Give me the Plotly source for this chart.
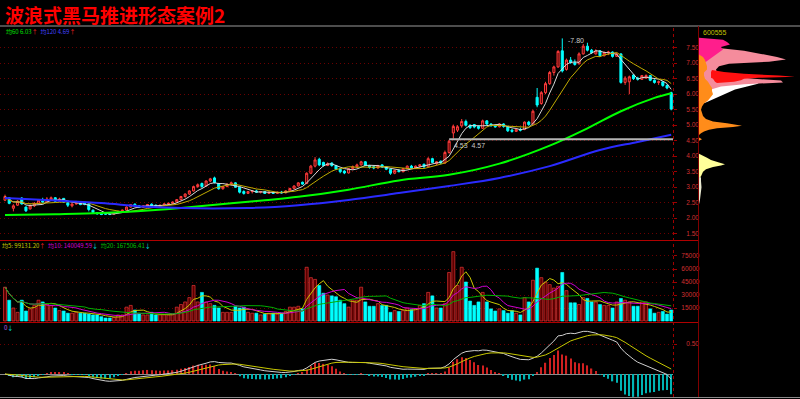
import plotly.graph_objects as go
import pandas as pd

W, H = 800, 399


def px(x):
    return x / W


def py(y):
    return 1 - y / H


# ---------------- data ----------------
opens = [2.58, 2.66, 2.32, 2.42, 2.65, 2.36, 2.30, 2.40, 2.48, 2.56,
         2.52, 2.60, 2.66, 2.55, 2.64, 2.50, 2.40, 2.46, 2.48, 2.50,
         2.46, 2.26, 2.18, 2.14, 2.16, 2.13, 2.13, 2.18, 2.22, 2.26,
         2.36, 2.45, 2.40, 2.35, 2.40, 2.45, 2.42, 2.38, 2.42, 2.46,
         2.48, 2.52, 2.60, 2.70, 2.78, 2.88, 3.02, 3.12, 3.04, 3.20,
         3.30, 3.12, 2.95, 3.02, 3.10, 3.14, 3.00, 2.86, 2.80, 2.86,
         2.88, 2.84, 2.86, 2.80, 2.84, 2.80, 2.84, 2.82, 2.88, 2.96,
         3.04, 3.16, 3.12, 3.45, 3.68, 3.90, 3.80, 3.70, 3.78, 3.70,
         3.58, 3.52, 3.46, 3.60, 3.66, 3.72, 3.82, 3.70, 3.66, 3.62,
         3.72, 3.65, 3.58, 3.45, 3.54, 3.50, 3.60, 3.68, 3.62, 3.68,
         3.74, 3.66, 3.92, 3.76, 3.84, 3.78, 4.12, 4.75, 4.84, 4.98,
         5.12, 5.00, 5.02, 4.96, 4.90, 5.14, 5.04, 4.98, 4.95, 5.04,
         4.96, 4.84, 4.80, 4.86, 4.86, 5.10, 5.04, 5.90, 5.70, 6.05,
         6.34, 6.70, 6.88, 7.40, 6.80, 7.10, 7.02, 6.98, 7.30, 7.55,
         7.42, 7.30, 7.40, 7.24, 7.34, 7.36, 7.22, 7.30, 6.38, 6.40,
         6.62, 6.52, 6.48, 6.52, 6.60, 6.45, 6.38, 6.40, 6.28, 6.05]
highs = [2.76, 2.68, 2.45, 2.58, 2.68, 2.38, 2.45, 2.52, 2.62, 2.66,
         2.68, 2.70, 2.68, 2.66, 2.65, 2.52, 2.48, 2.52, 2.50, 2.52,
         2.48, 2.28, 2.20, 2.18, 2.18, 2.16, 2.20, 2.24, 2.28, 2.38,
         2.46, 2.48, 2.42, 2.42, 2.46, 2.48, 2.44, 2.44, 2.48, 2.50,
         2.54, 2.62, 2.72, 2.80, 2.90, 3.05, 3.12, 3.15, 3.22, 3.30,
         3.34, 3.14, 3.04, 3.12, 3.18, 3.16, 3.02, 2.90, 2.88, 2.90,
         2.92, 2.88, 2.88, 2.86, 2.86, 2.86, 2.88, 2.90, 2.98, 3.06,
         3.16, 3.18, 3.48, 3.72, 3.97, 3.95, 3.82, 3.80, 3.80, 3.72,
         3.62, 3.55, 3.62, 3.70, 3.76, 3.85, 3.84, 3.72, 3.68, 3.72,
         3.74, 3.68, 3.60, 3.56, 3.58, 3.62, 3.70, 3.72, 3.70, 3.74,
         3.76, 3.97, 3.95, 3.84, 3.86, 4.18, 4.53, 5.02, 5.00, 5.20,
         5.18, 5.02, 5.04, 4.98, 5.18, 5.16, 5.06, 5.02, 5.06, 5.06,
         4.98, 4.88, 4.88, 4.92, 5.12, 5.14, 5.50, 6.20, 6.10, 6.40,
         6.75, 6.92, 7.42, 7.80, 7.15, 7.20, 7.12, 7.35, 7.62, 7.66,
         7.46, 7.45, 7.42, 7.38, 7.40, 7.38, 7.34, 7.32, 6.58, 6.60,
         6.64, 6.56, 6.62, 6.64, 6.62, 6.48, 6.44, 6.42, 6.32, 6.08]
lows = [2.55, 2.45, 2.22, 2.40, 2.44, 2.20, 2.28, 2.36, 2.46, 2.50,
        2.50, 2.56, 2.52, 2.53, 2.50, 2.36, 2.35, 2.44, 2.42, 2.42,
        2.22, 2.15, 2.12, 2.10, 2.11, 2.10, 2.12, 2.16, 2.20, 2.25,
        2.34, 2.36, 2.33, 2.34, 2.38, 2.38, 2.36, 2.37, 2.40, 2.42,
        2.46, 2.50, 2.58, 2.66, 2.75, 2.86, 2.98, 2.98, 3.02, 3.16,
        3.12, 2.92, 2.92, 3.00, 3.06, 2.98, 2.80, 2.76, 2.78, 2.80,
        2.82, 2.80, 2.78, 2.78, 2.78, 2.78, 2.80, 2.80, 2.86, 2.94,
        3.02, 3.08, 3.10, 3.42, 3.64, 3.68, 3.66, 3.68, 3.66, 3.55,
        3.45, 3.42, 3.44, 3.56, 3.62, 3.70, 3.68, 3.60, 3.58, 3.60,
        3.62, 3.55, 3.40, 3.42, 3.48, 3.48, 3.58, 3.60, 3.60, 3.64,
        3.62, 3.64, 3.78, 3.72, 3.74, 3.76, 4.08, 4.57, 4.78, 4.92,
        4.96, 4.88, 4.90, 4.86, 4.88, 5.00, 4.96, 4.92, 4.93, 4.92,
        4.78, 4.76, 4.78, 4.80, 4.84, 4.98, 5.02, 5.58, 5.66, 6.00,
        6.30, 6.60, 6.85, 6.70, 6.76, 6.98, 6.92, 6.96, 7.28, 7.38,
        7.30, 7.28, 7.20, 7.22, 7.26, 7.18, 7.20, 6.34, 6.30, 6.00,
        6.46, 6.44, 6.46, 6.50, 6.42, 6.34, 6.30, 6.24, 6.16, 5.48]
closes = [2.70, 2.48, 2.40, 2.55, 2.46, 2.24, 2.40, 2.48, 2.58, 2.52,
          2.62, 2.66, 2.55, 2.62, 2.52, 2.42, 2.46, 2.48, 2.44, 2.45,
          2.28, 2.18, 2.14, 2.12, 2.13, 2.12, 2.18, 2.22, 2.26, 2.36,
          2.44, 2.38, 2.35, 2.40, 2.44, 2.40, 2.38, 2.42, 2.46, 2.48,
          2.52, 2.60, 2.70, 2.78, 2.88, 3.02, 3.08, 3.02, 3.20, 3.27,
          3.15, 2.95, 3.02, 3.10, 3.14, 3.00, 2.84, 2.80, 2.86, 2.88,
          2.84, 2.86, 2.80, 2.84, 2.80, 2.84, 2.82, 2.88, 2.96, 3.04,
          3.14, 3.10, 3.45, 3.68, 3.88, 3.72, 3.70, 3.76, 3.70, 3.58,
          3.50, 3.46, 3.60, 3.66, 3.72, 3.82, 3.70, 3.64, 3.62, 3.70,
          3.65, 3.58, 3.45, 3.54, 3.50, 3.60, 3.68, 3.62, 3.68, 3.72,
          3.66, 3.92, 3.80, 3.82, 3.78, 4.12, 4.48, 4.96, 4.95, 5.12,
          5.00, 4.92, 4.94, 4.90, 5.14, 5.04, 4.98, 4.95, 5.04, 4.96,
          4.82, 4.80, 4.86, 4.84, 5.10, 5.02, 5.45, 5.65, 6.05, 6.34,
          6.70, 6.88, 7.38, 6.75, 7.10, 7.02, 6.96, 7.30, 7.55, 7.42,
          7.34, 7.40, 7.24, 7.34, 7.36, 7.22, 7.30, 6.38, 6.52, 6.56,
          6.50, 6.48, 6.60, 6.60, 6.45, 6.38, 6.40, 6.28, 6.20, 5.52]
volumes = [39000, 24000, 15000, 10000, 24000, 11500, 14000, 18000, 24000, 22000,
           20000, 18000, 15000, 12000, 11500, 9000, 9000, 10000, 9000, 9000,
           8000, 7000, 7000, 5000, 3500, 3500, 4000, 7000, 7000, 16000,
           18000, 12700, 9000, 7000, 7000, 10000, 7000, 7000, 7000, 7000,
           8000, 16000, 19000, 22000, 27000, 41000, 22000, 33000, 22000, 20000,
           18000, 15000, 10000, 10000, 10000, 17000, 15000, 16000, 10000, 9000,
           9000, 7000, 8000, 9000, 9000, 8000, 9000, 11000, 16000, 16000,
           17000, 14000, 62000, 50000, 48000, 41000, 32000, 30000, 29000, 28000,
           24000, 20000, 16000, 24000, 24000, 39000, 22000, 17000, 17000, 20000,
           18000, 18000, 10000, 12000, 11000, 12000, 15000, 13000, 14000, 18000,
           20000, 33000, 29000, 15000, 15000, 20000, 56000, 80000, 41000, 62000,
           45000, 23000, 18000, 22000, 33000, 22000, 14000, 11500, 14000, 12000,
           9000, 12000, 9000, 7000, 27000, 22000, 47000, 61000, 50000, 45000,
           42000, 38000, 40000, 56000, 35000, 21000, 21000, 19000, 27000, 26000,
           22000, 22000, 19000, 18000, 18000, 15000, 22000, 26000, 24000, 22000,
           17000, 17000, 22000, 22000, 14000, 9000, 10000, 11000, 8000, 12700]

# long moving averages (bar index, value)
ma60_bar = [0, 12, 23, 35, 42, 54, 62, 70, 82, 94, 106, 118, 130, 139, 147, 155, 159]
ma60_val = [2.10, 2.13, 2.17, 2.26, 2.33, 2.48, 2.58, 2.69, 2.92, 3.22, 3.40, 3.76,
            4.34, 4.90, 5.45, 5.88, 6.03]
ma120_bar = [0, 12, 23, 35, 58, 70, 82, 94, 106, 118, 130, 142, 151, 159]
ma120_val = [2.65, 2.57, 2.49, 2.36, 2.33, 2.42, 2.59, 2.81, 3.04, 3.30, 3.68, 4.20,
             4.46, 4.69]

gap_low, gap_high = 4.53, 4.57
gap_bar = 106
peak_bar, peak_val = 133, 7.80

price_ticks = [1.5, 2.0, 2.5, 3.0, 3.5, 4.0, 4.5, 5.0, 5.5, 6.0, 6.5, 7.0, 7.5]
vol_ticks = [15000, 30000, 45000, 60000, 75000]
macd_ticks = [0.5]

# chip distribution layers (price levels, left / right extent in px units)
chip_white_p = [6.45, 6.40, 6.33, 6.25, 6.15, 6.05, 5.95, 5.85, 5.75, 5.65]
chip_white_r = [0, 62, 58, 48, 36, 28, 22, 15, 8, 0]
chip_pink_p = [7.55, 7.48, 7.40, 7.30, 7.20, 7.12, 7.05, 6.98, 6.90, 6.80, 6.70, 6.60,
               6.50, 6.44, 6.38, 6.32, 6.25, 6.15, 6.05]
chip_pink_r = [0, 22, 45, 62, 78, 87, 70, 30, 20, 17, 18, 25, 55, 82, 84, 45, 22, 12, 0]
chip_red_p = [6.78, 6.72, 6.66, 6.60, 6.56, 6.53, 6.50, 6.45, 6.40, 6.36]
chip_red_l = [13, 12, 12, 12, 12, 12, 14, 15, 16, 18]
chip_red_r = [13, 25, 45, 80, 96, 60, 45, 42, 35, 18]
chip_mag_p = [7.82, 7.76, 7.68, 7.60, 7.52, 7.44, 7.36, 7.28, 7.20, 7.12, 7.05, 7.00]
chip_mag_r = [0, 24, 28, 31, 22, 24, 20, 16, 13, 10, 7, 0]
chip_orange_p = [7.28, 7.20, 7.10, 7.00, 6.90, 6.80, 6.70, 6.60, 6.50, 6.40, 6.30, 6.20,
                 6.10, 6.00, 5.90, 5.80, 5.70, 5.60, 5.50, 5.40, 5.30, 5.20, 5.12, 5.06,
                 4.98, 4.94, 4.90, 4.85, 4.80, 4.74, 4.68]
chip_orange_r = [0, 4, 6, 7, 8, 8, 5, 5, 6, 9, 11, 13, 13, 14, 12, 9, 5, 3, 2, 3, 4, 7,
                 14, 28, 43, 34, 18, 10, 5, 2, 0]
chip_orange2_p = [4.60, 4.55, 4.50]
chip_orange2_r = [0, 3, 0]
chip_yellow_p = [4.08, 4.02, 3.95, 3.88, 3.80, 3.74, 3.70, 3.65, 3.58, 3.50, 3.42, 3.35, 3.28]
chip_yellow_r = [0, 4, 8, 12, 20, 26, 22, 14, 7, 4, 3, 2, 0]
chip_thin_p = [3.32, 3.20, 3.00, 2.80, 2.60, 2.45]
chip_thin_r = [2, 2, 2.5, 1.5, 1, 0]

# ---------------- derived series ----------------
n = len(closes)
bars = list(range(n))
cs = pd.Series(closes)
ma5 = cs.rolling(5, min_periods=1).mean()
ma10 = cs.rolling(10, min_periods=1).mean()
vs = pd.Series(volumes)
vma5 = vs.rolling(5, min_periods=1).mean()
vma10 = vs.rolling(10, min_periods=1).mean()
vma20 = vs.rolling(20, min_periods=1).mean()
ema12 = cs.ewm(span=12, adjust=False).mean()
ema26 = cs.ewm(span=26, adjust=False).mean()
dif = ema12 - ema26
dea = dif.ewm(span=9, adjust=False).mean()
hist = 2 * (dif - dea)

up = [c >= o for o, c in zip(opens, closes)]

RED = '#ff3c3c'
CYAN = '#00ffff'

SP = 4.19
XR = [-5 / SP, 668 / SP]

fig = go.Figure()

# main panel
fig.add_trace(go.Candlestick(
    x=bars, open=opens, high=highs, low=lows, close=closes,
    increasing=dict(line=dict(color=RED, width=1), fillcolor='#4a0000'),
    decreasing=dict(line=dict(color=CYAN, width=1), fillcolor=CYAN),
    whiskerwidth=0, xaxis='x', yaxis='y', hoverinfo='skip'))
fig.add_trace(go.Scatter(x=bars, y=ma5, mode='lines', line=dict(color='#d8d8d8', width=1),
                         xaxis='x', yaxis='y'))
fig.add_trace(go.Scatter(x=bars, y=ma10, mode='lines', line=dict(color='#c0aa00', width=1),
                         xaxis='x', yaxis='y'))
fig.add_trace(go.Scatter(x=ma60_bar, y=ma60_val, mode='lines', line=dict(color='#00ff00', width=2,
                         shape='spline'), xaxis='x', yaxis='y'))
fig.add_trace(go.Scatter(x=ma120_bar, y=ma120_val, mode='lines', line=dict(color='#2a2aff', width=2,
                         shape='spline'), xaxis='x', yaxis='y'))
gap_mid = (gap_low + gap_high) / 2
fig.add_trace(go.Scatter(x=[gap_bar, n + 1], y=[gap_mid, gap_mid], mode='lines',
                         line=dict(color='#b4b4b4', width=2), xaxis='x', yaxis='y'))

# volume panel
vol_fill = ['#5a0000' if u else CYAN for u in up]
vol_line = [RED if u else CYAN for u in up]
fig.add_trace(go.Bar(x=bars, y=volumes, width=0.72,
                     marker=dict(color=vol_fill, line=dict(color=vol_line, width=0.6)),
                     xaxis='x2', yaxis='y2'))
fig.add_trace(go.Scatter(x=bars, y=vma5, mode='lines', line=dict(color='#c8c800', width=1),
                         xaxis='x2', yaxis='y2'))
fig.add_trace(go.Scatter(x=bars, y=vma10, mode='lines', line=dict(color='#d000d0', width=1),
                         xaxis='x2', yaxis='y2'))
fig.add_trace(go.Scatter(x=bars, y=vma20, mode='lines', line=dict(color='#00b000', width=1),
                         xaxis='x2', yaxis='y2'))

# MACD panel
hist_col = ['#d02020' if h >= 0 else '#00b4b4' for h in hist]
fig.add_trace(go.Bar(x=bars, y=hist, width=0.3, marker=dict(color=hist_col, line=dict(width=0)),
                     xaxis='x3', yaxis='y3'))
fig.add_trace(go.Scatter(x=bars, y=dif, mode='lines', line=dict(color='#d0d0d0', width=1),
                         xaxis='x3', yaxis='y3'))
fig.add_trace(go.Scatter(x=bars, y=dea, mode='lines', line=dict(color='#c8c800', width=1),
                         xaxis='x3', yaxis='y3'))


# chip distribution
def chip(prices, right, color, left=None):
    if left is None:
        left = [0] * len(prices)
    xs = list(left) + list(right)[::-1]
    ys = list(prices) + list(prices)[::-1]
    fig.add_trace(go.Scatter(x=xs, y=ys, mode='lines', fill='toself', fillcolor=color,
                             line=dict(width=0, color=color), xaxis='x4', yaxis='y4',
                             hoverinfo='skip'))


chip(chip_white_p, chip_white_r, '#ffffff')
chip(chip_pink_p, chip_pink_r, '#f58c9c')
chip(chip_red_p, chip_red_r, '#ff1010', chip_red_l)
chip(chip_mag_p, chip_mag_r, '#ff1e8c')
chip(chip_orange_p, chip_orange_r, '#ff8c1a')
chip(chip_orange2_p, chip_orange2_r, '#ff8c1a')
chip(chip_yellow_p, chip_yellow_r, '#ffff9a')
chip(chip_thin_p, chip_thin_r, '#e8e8d0')

# ---------------- layout ----------------
GRID = '#6a0000'
GDASH = '1px,3px'
TICKF = dict(size=6.5, color='#d03030', family='Liberation Sans')
xcommon = dict(domain=[0, px(673)], range=XR, showticklabels=False, showgrid=False,
               zeroline=False, ticks='', showline=False)

fig.update_layout(
    width=W, height=H, margin=dict(l=0, r=0, t=0, b=0),
    paper_bgcolor='black', plot_bgcolor='black', showlegend=False,
    boxgap=0.3,
    xaxis=dict(**xcommon, anchor='y', rangeslider=dict(visible=False)),
    xaxis2=dict(**xcommon, anchor='y2'),
    xaxis3=dict(**xcommon, anchor='y3'),
    xaxis4=dict(domain=[px(699), px(797)], range=[0, 98], visible=False, anchor='y4'),
    yaxis=dict(domain=[py(240), py(26)], range=[1.297, 8.20], side='right', anchor='x',
               tickvals=price_ticks, ticktext=[f'{v:.2f}' for v in price_ticks],
               tickfont=TICKF, ticks='outside', ticklen=3, tickcolor='#a00000',
               ticklabelstandoff=8, showgrid=True, gridcolor=GRID, griddash=GDASH,
               gridwidth=1, zeroline=False, showline=False),
    yaxis2=dict(domain=[py(322), py(241)], range=[-1154, 92300], side='right', anchor='x2',
                tickvals=vol_ticks, ticktext=[str(v) for v in vol_ticks], tickfont=TICKF,
                ticks='outside', ticklen=3, tickcolor='#a00000', ticklabelstandoff=3,
                showgrid=True, gridcolor=GRID, griddash=GDASH, zeroline=False, showline=False),
    yaxis3=dict(domain=[py(397), py(323)], range=[-0.3833, 0.85], side='right', anchor='x3',
                tickvals=macd_ticks, ticktext=[f'{v:.2f}' for v in macd_ticks], tickfont=TICKF,
                ticks='outside', ticklen=3, tickcolor='#a00000', ticklabelstandoff=8,
                showgrid=True, gridcolor=GRID, griddash=GDASH, zeroline=True,
                zerolinecolor='#8c8c8c', zerolinewidth=1, showline=False),
    yaxis4=dict(domain=[py(240), py(26)], range=[1.297, 8.20], anchor='x4', visible=False),
)

shapes = [
    dict(type='line', xref='paper', yref='paper', x0=0, x1=1, y0=py(26), y1=py(26),
         line=dict(color='#9a9a9a', width=1)),
    dict(type='line', xref='paper', yref='paper', x0=0, x1=px(699), y0=py(240.5), y1=py(240.5),
         line=dict(color='#b00000', width=1)),
    dict(type='line', xref='paper', yref='paper', x0=0, x1=px(699), y0=py(322.5), y1=py(322.5),
         line=dict(color='#b00000', width=1)),
    dict(type='line', xref='paper', yref='paper', x0=0, x1=1, y0=py(397.5), y1=py(397.5),
         line=dict(color='#8a8a8a', width=1)),
    dict(type='line', xref='paper', yref='paper', x0=px(673.5), x1=px(673.5), y0=py(397), y1=py(26),
         line=dict(color='#a00000', width=1, dash='dot')),
    dict(type='line', xref='paper', yref='paper', x0=px(698.5), x1=px(698.5), y0=py(397), y1=py(26),
         line=dict(color='#800000', width=1)),
]
fig.update_layout(shapes=shapes)

SMALL = 'Noto Sans CJK SC'
ann = [
    dict(x=px(3), y=py(14), xref='paper', yref='paper', xanchor='left', yanchor='middle',
         text='<b>波浪式黑马推进形态案例2</b>', showarrow=False,
         font=dict(family='Noto Sans CJK SC', size=19, color='#ff0000')),
    dict(x=px(4), y=py(31.5), xref='paper', yref='paper', xanchor='left', yanchor='middle',
         showarrow=False, font=dict(family=SMALL, size=6),
         text=('<span style="color:#00e000">均60 6.03</span><span style="color:#ff2020">↑</span>'
               '  <span style="color:#4040ff">均120 4.69</span><span style="color:#ff2020">↑</span>')),
    dict(x=px(0), y=py(245.5), xref='paper', yref='paper', xanchor='left', yanchor='middle',
         showarrow=False, font=dict(family=SMALL, size=6),
         text=('<span style="color:#c8c800">均5: 99131.20</span><span style="color:#ff2020">↑</span>'
               '  <span style="color:#d000d0">均10: 140049.59</span><span style="color:#00e0e0">↓</span>'
               '  <span style="color:#00c000">均20: 167506.41</span><span style="color:#00e0e0">↓</span>')),
    dict(x=px(2), y=py(327), xref='paper', yref='paper', xanchor='left', yanchor='middle',
         showarrow=False, font=dict(family=SMALL, size=6),
         text='<span style="color:#c060ff">0</span><span style="color:#00e0e0">↓</span>'),
    dict(x=px(701), y=py(32), xref='paper', yref='paper', xanchor='left', yanchor='middle',
         showarrow=False, text='600555', font=dict(family='Liberation Sans', size=7, color='#c0c000')),
    dict(x=peak_bar, y=peak_val, xref='x', yref='y', xanchor='left', yanchor='middle',
         xshift=4, yshift=-2, showarrow=False, text='-7.80',
         font=dict(family='Liberation Sans', size=7, color='#c8c8c8')),
    dict(x=gap_bar, y=gap_mid, xref='x', yref='y', xanchor='left', yanchor='top',
         xshift=3, yshift=-1, showarrow=False, text=f'{gap_low:.2f}  {gap_high:.2f}',
         font=dict(family='Liberation Sans', size=7, color='#c8c8c8')),
]
fig.update_layout(annotations=ann)

fig.write_html('out.html', config={'displayModeBar': False},
               post_script="document.body.style.margin='0px';document.body.style.overflow='hidden';")
